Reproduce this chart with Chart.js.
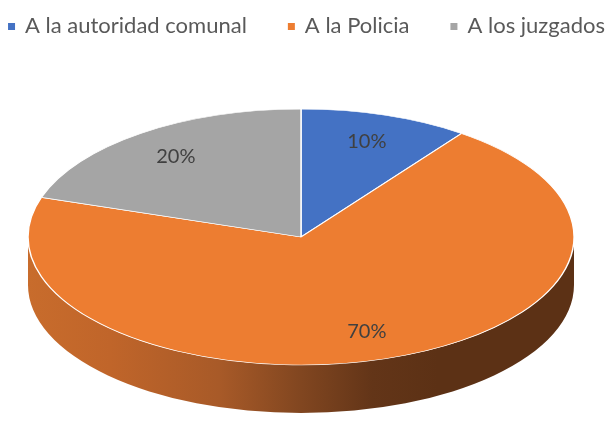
<!DOCTYPE html>
<html>
<head>
<meta charset="utf-8">
<script src="https://cdn.jsdelivr.net/npm/chart.js@4/dist/chart.umd.min.js"></script>
<style>
  html, body { margin:0; padding:0; background:#fff; }
  #wrap { width:607px; height:423px; position:relative; }
</style>
</head>
<body>
<div id="wrap"><canvas id="pie"></canvas></div>
<script>
// ===== Data =====
const categories = ["A la autoridad comunal", "A la Policia", "A los juzgados"];
const values = [10, 70, 20];
const sliceColors = ["#4472c4", "#ed7d31", "#a5a5a5"];

// ===== Look of the tilted pie =====
const tilt = { cx: 301, cy: 237, rx: 273, ry: 128, depth: 48 };
const fontFace = "Lato, 'Open Sans', sans-serif";

function pct(v){
  const total = values.reduce((a, b) => a + b, 0);
  return Math.round(v / total * 100) + "%";
}

// side wall shade, light on the left, dark on the right
function wallGradient(ctx){
  const g = ctx.createLinearGradient(tilt.cx - tilt.rx, 0, tilt.cx + tilt.rx, 0);
  g.addColorStop(0, "#c86c2c");
  g.addColorStop(0.15, "#c0652a");
  g.addColorStop(0.35, "#a85a28");
  g.addColorStop(0.5, "#814620");
  g.addColorStop(0.63, "#633518");
  g.addColorStop(0.75, "#5c3115");
  g.addColorStop(1, "#5c3115");
  return g;
}

const pie3d = {
  id: "pie3d",
  beforeDatasetsDraw(chart){
    const ctx = chart.ctx;
    const arcs = chart.getDatasetMeta(0).data;
    const R = arcs[0].outerRadius;

    // side walls for whatever part of each slice faces the viewer (0..PI)
    arcs.forEach((arc) => {
      [-2 * Math.PI, 0, 2 * Math.PI].forEach((k) => {
        const s = Math.max(arc.startAngle + k, 0);
        const e = Math.min(arc.endAngle + k, Math.PI);
        if (e <= s) return;
        ctx.save();
        ctx.beginPath();
        ctx.ellipse(tilt.cx, tilt.cy, tilt.rx, tilt.ry, 0, s, e, false);
        ctx.ellipse(tilt.cx, tilt.cy + tilt.depth, tilt.rx, tilt.ry, 0, e, s, true);
        ctx.closePath();
        ctx.fillStyle = wallGradient(ctx);
        ctx.fill();
        ctx.restore();
      });
    });

    // squash the round pie into the top face
    ctx.save();
    ctx.translate(tilt.cx, tilt.cy);
    ctx.scale(tilt.rx / R, tilt.ry / R);
    ctx.translate(-arcs[0].x, -arcs[0].y);
  },
  afterDatasetsDraw(chart){
    chart.ctx.restore();
  },
  afterDraw(chart){
    const ctx = chart.ctx;
    const arcs = chart.getDatasetMeta(0).data;

    // percentage labels on the top face
    ctx.save();
    ctx.font = "20px " + fontFace;
    ctx.fillStyle = "#404040";
    ctx.textAlign = "center";
    ctx.textBaseline = "middle";
    arcs.forEach((arc, i) => {
      const mid = (arc.startAngle + arc.endAngle) / 2;
      const f = 0.78;
      const x = tilt.cx + Math.cos(mid) * tilt.rx * f;
      const y = tilt.cy + Math.sin(mid) * tilt.ry * f;
      ctx.fillText(pct(values[i]), x, y);
    });
    ctx.restore();

    // legend row across the top
    ctx.save();
    ctx.font = "22px " + fontFace;
    ctx.textBaseline = "alphabetic";
    const box = 7, boxGap = 10, itemGap = 41;
    const widths = categories.map(t => box + boxGap + ctx.measureText(t).width);
    const total = widths.reduce((a, b) => a + b, 0) + itemGap * (categories.length - 1);
    let x = (chart.width - total) / 2 + 3;
    const baseline = 33;
    categories.forEach((t, i) => {
      ctx.fillStyle = sliceColors[i];
      ctx.fillRect(x, 23, box, box);
      ctx.fillStyle = "#595959";
      ctx.fillText(t, x + box + boxGap, baseline);
      x += widths[i] + itemGap;
    });
    ctx.restore();
  }
};

new Chart(document.getElementById("pie"), {
  type: "pie",
  data: {
    labels: categories,
    datasets: [{
      data: values,
      backgroundColor: sliceColors,
      borderColor: "#ffffff",
      borderWidth: 1
    }]
  },
  options: {
    responsive: true,
    maintainAspectRatio: false,
    animation: false,
    events: [],
    layout: { padding: { top: 50 } },
    plugins: {
      legend: { display: false },
      tooltip: { enabled: false }
    }
  },
  plugins: [pie3d]
});
</script>
</body>
</html>
